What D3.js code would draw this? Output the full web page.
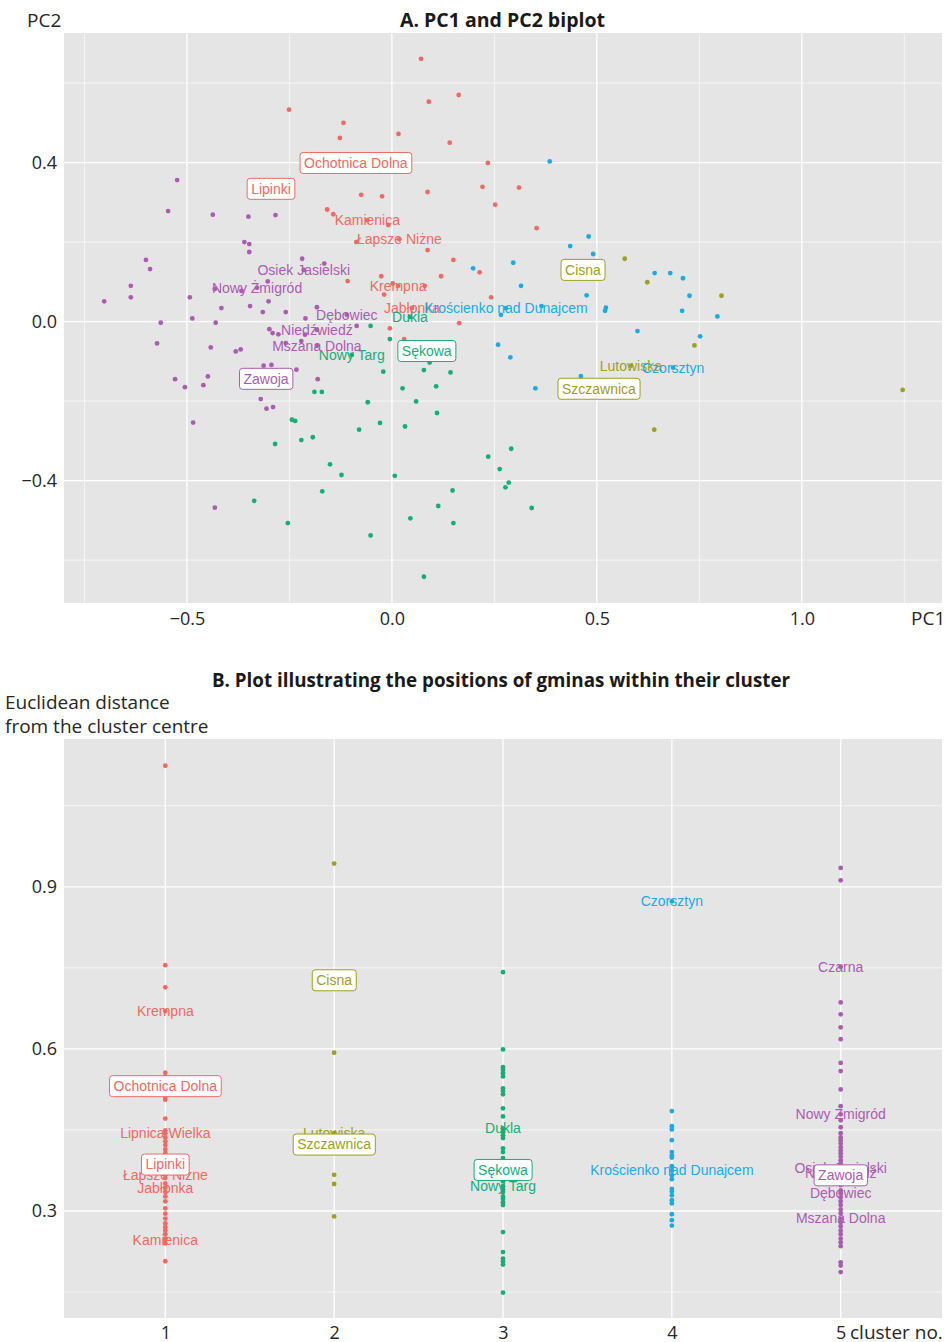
<!DOCTYPE html>
<html>
<head>
<meta charset="utf-8">
<script src="https://cdn.jsdelivr.net/npm/d3@7"></script>
<style>
  body { margin: 0; background: #ffffff; }
  svg { display: block; }
</style>
</head>
<body>
<svg id="chart" width="945" height="1342"></svg>
<script>
// ---------------------------------------------------------------
// Data
// ---------------------------------------------------------------
const clusters = [1, 2, 3, 4, 5];

// Panel A: PC1 / PC2 scores of the gminas, one array per cluster
const pcaCluster1 = [
  [0.071, 0.661], [-0.251, 0.533], [0.163, 0.570], [0.090, 0.553], [-0.118, 0.500],
  [-0.127, 0.462], [0.016, 0.472], [0.141, 0.450], [0.234, 0.399], [0.221, 0.339],
  [0.310, 0.337], [0.252, 0.294], [0.087, 0.326], [-0.075, 0.319], [-0.024, 0.315],
  [-0.158, 0.282], [-0.143, 0.270], [-0.009, 0.243], [0.353, 0.235], [-0.087, 0.200],
  [0.087, 0.180], [0.150, 0.155], [0.214, 0.124], [0.120, 0.114], [-0.026, 0.114],
  [-0.108, 0.102], [0.002, 0.096], [0.080, 0.090], [-0.019, 0.068], [0.242, 0.061],
  [-0.005, -0.017], [0.164, -0.004], [0.030, -0.044]
];
const pcaCluster2 = [
  [0.568, 0.158], [0.623, 0.099], [0.804, 0.065], [0.738, -0.060], [0.640, -0.272],
  [1.246, -0.172]
];
const pcaCluster3 = [
  [-0.052, -0.011], [-0.005, -0.044], [0.092, -0.103], [0.078, -0.122], [0.143, -0.128],
  [-0.021, -0.126], [0.026, -0.168], [0.108, -0.163], [-0.059, -0.203], [0.059, -0.201],
  [0.110, -0.230], [-0.029, -0.255], [-0.080, -0.272], [0.032, -0.264], [-0.193, -0.291],
  [-0.221, -0.298], [-0.189, -0.177], [-0.171, -0.177], [-0.151, -0.359], [-0.123, -0.386],
  [0.007, -0.388], [-0.170, -0.427], [0.235, -0.340], [0.291, -0.320], [0.263, -0.371],
  [0.285, -0.405], [0.277, -0.417], [0.148, -0.425], [0.113, -0.464], [0.045, -0.495],
  [0.150, -0.507], [0.341, -0.469], [-0.052, -0.538], [0.078, -0.642], [-0.244, -0.247],
  [-0.236, -0.250], [-0.285, -0.308], [-0.336, -0.451], [-0.254, -0.507]
];
const pcaCluster4 = [
  [0.385, 0.403], [0.435, 0.190], [0.480, 0.214], [0.491, 0.170], [0.198, 0.134],
  [0.296, 0.148], [0.315, 0.090], [0.475, 0.066], [0.520, 0.027], [0.522, 0.035],
  [0.641, 0.122], [0.679, 0.122], [0.710, 0.109], [0.726, 0.065], [0.708, 0.027],
  [0.794, 0.013], [0.266, 0.017], [0.365, 0.039], [0.599, -0.024], [0.752, -0.037],
  [0.259, -0.058], [0.289, -0.090], [0.350, -0.168], [0.461, -0.137]
];
const pcaCluster5 = [
  [-0.524, 0.356], [-0.546, 0.278], [-0.437, 0.269], [-0.350, 0.264], [-0.284, 0.268],
  [-0.360, 0.200], [-0.348, 0.195], [-0.348, 0.175], [-0.600, 0.155], [-0.590, 0.132],
  [-0.219, 0.158], [-0.165, 0.146], [-0.637, 0.090], [-0.637, 0.061], [-0.702, 0.051],
  [-0.493, 0.061], [-0.432, 0.082], [-0.367, 0.077], [-0.303, 0.101], [-0.416, 0.034],
  [-0.346, 0.039], [-0.301, 0.051], [-0.315, 0.024], [-0.259, 0.024], [-0.183, 0.036],
  [-0.211, 0.008], [-0.487, 0.008], [-0.430, -0.003], [-0.564, -0.003], [-0.573, -0.055],
  [-0.442, -0.065], [-0.381, -0.075], [-0.369, -0.070], [-0.299, -0.019], [-0.291, -0.029],
  [-0.277, -0.032], [-0.221, -0.049], [-0.259, -0.054], [-0.313, -0.111], [-0.294, -0.109],
  [-0.233, -0.121], [-0.529, -0.145], [-0.505, -0.165], [-0.460, -0.160], [-0.449, -0.138],
  [-0.181, -0.145], [-0.320, -0.195], [-0.306, -0.219], [-0.290, -0.215], [-0.485, -0.254],
  [-0.432, -0.468], [-0.086, -0.011], [-0.212, -0.033]
];
const pcaByCluster = [pcaCluster1, pcaCluster2, pcaCluster3, pcaCluster4, pcaCluster5];

// Named gminas on the biplot
const pcaLabels = [
  { name: "Ochotnica Dolna", cluster: 1, pc1: -0.088, pc2: 0.399 },
  { name: "Lipinki", cluster: 1, pc1: -0.295, pc2: 0.334 },
  { name: "Kamienica", cluster: 1, pc1: -0.060, pc2: 0.255 },
  { name: "Łapsze Niżne", cluster: 1, pc1: 0.018, pc2: 0.207 },
  { name: "Krempna", cluster: 1, pc1: 0.015, pc2: 0.090 },
  { name: "Jabłonka", cluster: 1, pc1: 0.049, pc2: 0.034 },
  { name: "Cisna", cluster: 2, pc1: 0.466, pc2: 0.130 },
  { name: "Lutowiska", cluster: 2, pc1: 0.583, pc2: -0.111 },
  { name: "Szczawnica", cluster: 2, pc1: 0.505, pc2: -0.169 },
  { name: "Dukla", cluster: 3, pc1: 0.044, pc2: 0.012 },
  { name: "Sękowa", cluster: 3, pc1: 0.085, pc2: -0.074 },
  { name: "Nowy Targ", cluster: 3, pc1: -0.098, pc2: -0.084 },
  { name: "Krościenko nad Dunajcem", cluster: 4, pc1: 0.278, pc2: 0.034 },
  { name: "Czorsztyn", cluster: 4, pc1: 0.686, pc2: -0.116 },
  { name: "Osiek Jasielski", cluster: 5, pc1: -0.215, pc2: 0.130 },
  { name: "Nowy Żmigród", cluster: 5, pc1: -0.329, pc2: 0.085 },
  { name: "Dębowiec", cluster: 5, pc1: -0.110, pc2: 0.017 },
  { name: "Niedźwiedź", cluster: 5, pc1: -0.183, pc2: -0.021 },
  { name: "Mszana Dolna", cluster: 5, pc1: -0.183, pc2: -0.061 },
  { name: "Zawoja", cluster: 5, pc1: -0.307, pc2: -0.144 }
];

// Gminas shown with a framed label
const framedGminas = ["Ochotnica Dolna", "Lipinki", "Cisna", "Szczawnica", "Sękowa", "Zawoja"];

// Panel B: Euclidean distance of each gmina from its cluster centre
const distCluster1 = [
  1.124, 0.755, 0.714, 0.556, 0.549, 0.511, 0.506, 0.471, 0.449, 0.436, 0.429, 0.422,
  0.414, 0.407, 0.399, 0.379, 0.361, 0.351, 0.335, 0.327, 0.318, 0.305, 0.295, 0.286,
  0.277, 0.270, 0.264, 0.257, 0.249, 0.240, 0.207
];
const distCluster2 = [0.943, 0.593, 0.367, 0.350, 0.290];
const distCluster3 = [
  0.742, 0.599, 0.566, 0.561, 0.555, 0.549, 0.527, 0.522, 0.516, 0.490, 0.475, 0.446,
  0.440, 0.435, 0.416, 0.409, 0.398, 0.385, 0.367, 0.361, 0.355, 0.340, 0.335, 0.327,
  0.322, 0.316, 0.311, 0.261, 0.224, 0.212, 0.207, 0.201, 0.149
];
const distCluster4 = [
  0.485, 0.457, 0.451, 0.431, 0.409, 0.403, 0.399, 0.383, 0.366, 0.359, 0.341, 0.336,
  0.329, 0.320, 0.314, 0.294, 0.283, 0.273
];
const distCluster5 = [
  0.935, 0.912, 0.686, 0.664, 0.640, 0.618, 0.574, 0.559, 0.525, 0.494, 0.468, 0.455,
  0.444, 0.436, 0.431, 0.425, 0.418, 0.412, 0.407, 0.401, 0.394, 0.388, 0.357, 0.348,
  0.338, 0.325, 0.318, 0.311, 0.303, 0.296, 0.279, 0.272, 0.264, 0.257, 0.249, 0.242,
  0.235, 0.205, 0.199, 0.187
];
const distByCluster = [distCluster1, distCluster2, distCluster3, distCluster4, distCluster5];

const distLabels = [
  { name: "Krempna", cluster: 1, dist: 0.670 },
  { name: "Ochotnica Dolna", cluster: 1, dist: 0.531 },
  { name: "Lipnica Wielka", cluster: 1, dist: 0.444 },
  { name: "Lipinki", cluster: 1, dist: 0.386 },
  { name: "Łapsze Niżne", cluster: 1, dist: 0.367 },
  { name: "Jabłonka", cluster: 1, dist: 0.343 },
  { name: "Kamienica", cluster: 1, dist: 0.246 },
  { name: "Cisna", cluster: 2, dist: 0.727 },
  { name: "Lutowiska", cluster: 2, dist: 0.444 },
  { name: "Szczawnica", cluster: 2, dist: 0.423 },
  { name: "Dukla", cluster: 3, dist: 0.453 },
  { name: "Sękowa", cluster: 3, dist: 0.376 },
  { name: "Nowy Targ", cluster: 3, dist: 0.346 },
  { name: "Czorsztyn", cluster: 4, dist: 0.873 },
  { name: "Krościenko nad Dunajcem", cluster: 4, dist: 0.375 },
  { name: "Czarna", cluster: 5, dist: 0.752 },
  { name: "Nowy Żmigród", cluster: 5, dist: 0.479 },
  { name: "Osiek Jasielski", cluster: 5, dist: 0.379 },
  { name: "Niedźwiedź", cluster: 5, dist: 0.370 },
  { name: "Zawoja", cluster: 5, dist: 0.366 },
  { name: "Dębowiec", cluster: 5, dist: 0.333 },
  { name: "Mszana Dolna", cluster: 5, dist: 0.286 }
];

// Axis breaks
const pcaXTicks = [-0.5, 0.0, 0.5, 1.0];
const pcaXMinor = [-0.75, -0.25, 0.25, 0.75, 1.25];
const pcaYTicks = [-0.4, 0.0, 0.4];
const pcaYMinor = [-0.6, -0.2, 0.2, 0.6];
const distYTicks = [0.3, 0.6, 0.9];
const distYMinor = [0.15, 0.45, 0.75, 1.05];

// ---------------------------------------------------------------
// Styling
// ---------------------------------------------------------------
const clusterColors = ["#EE6A62", "#9EA01E", "#17AD78", "#1AABE5", "#AB5CB1"];
const color = c => clusterColors[c - 1];
const axisFont = "'Open Sans', 'Noto Sans', sans-serif";
const labelFont = "'Liberation Sans', Arial, sans-serif";
const panelFill = "#E5E5E5";
const textDark = "#262626";
const pointR = 2.4;

const svg = d3.select("#chart");
const plotLeft = 64, plotRight = 942;

function drawGrid(g, xScale, yScale, xs, xsMinor, ys, ysMinor, x0, x1, y0, y1) {
  g.append("rect").attr("x", x0).attr("y", y0)
    .attr("width", x1 - x0).attr("height", y1 - y0).attr("fill", panelFill);
  const minor = g.append("g").attr("stroke", "#F7F7F7").attr("stroke-width", 0.9);
  xsMinor.forEach(v => minor.append("line")
    .attr("x1", xScale(v)).attr("x2", xScale(v)).attr("y1", y0).attr("y2", y1));
  ysMinor.forEach(v => minor.append("line")
    .attr("x1", x0).attr("x2", x1).attr("y1", yScale(v)).attr("y2", yScale(v)));
  const major = g.append("g").attr("stroke", "#FFFFFF").attr("stroke-width", 1.3);
  xs.forEach(v => major.append("line")
    .attr("x1", xScale(v)).attr("x2", xScale(v)).attr("y1", y0).attr("y2", y1));
  ys.forEach(v => major.append("line")
    .attr("x1", x0).attr("x2", x1).attr("y1", yScale(v)).attr("y2", yScale(v)));
}

function styleAxis(g) {
  g.select(".domain").remove();
  g.selectAll(".tick line").remove();
  g.selectAll(".tick text")
    .attr("fill", textDark)
    .style("font-family", axisFont)
    .style("font-size", "18px");
}

function drawLabel(g, x, y, name, c, framed) {
  const lg = g.append("g");
  const t = lg.append("text")
    .attr("x", x).attr("y", y).attr("dy", "0.35em")
    .attr("text-anchor", "middle")
    .attr("fill", color(c))
    .style("font-family", labelFont)
    .style("font-size", "14px")
    .text(name);
  if (framed) {
    const bb = t.node().getBBox();
    lg.insert("rect", "text")
      .attr("x", bb.x - 4).attr("y", y - 10.5)
      .attr("width", bb.width + 8).attr("height", 21)
      .attr("rx", 3).attr("ry", 3)
      .attr("fill", "#FFFFFF")
      .attr("stroke", color(c)).attr("stroke-width", 1);
  }
}

// ---------------------------------------------------------------
// Panel A: PC1 and PC2 biplot
// ---------------------------------------------------------------
const aTop = 33, aBottom = 603;
const xA = d3.scaleLinear().domain([-0.8, 1.342]).range([plotLeft, plotRight]);
const yA = d3.scaleLinear().domain([-0.708, 0.726]).range([aBottom, aTop]);

const gA = svg.append("g");
drawGrid(gA, xA, yA, pcaXTicks, pcaXMinor, pcaYTicks, pcaYMinor, plotLeft, plotRight, aTop, aBottom);

gA.append("g").attr("transform", `translate(0,${aBottom})`)
  .call(d3.axisBottom(xA).tickValues(pcaXTicks).tickFormat(d3.format(".1f")).tickSize(0).tickPadding(9))
  .call(styleAxis);
gA.append("g").attr("transform", `translate(${plotLeft},0)`)
  .call(d3.axisLeft(yA).tickValues(pcaYTicks).tickFormat(d3.format(".1f")).tickSize(0).tickPadding(7))
  .call(styleAxis);

const ptsA = gA.append("g");
pcaByCluster.forEach((arr, i) => {
  ptsA.selectAll(null).data(arr).join("circle")
    .attr("cx", d => xA(d[0])).attr("cy", d => yA(d[1]))
    .attr("r", pointR).attr("fill", clusterColors[i]);
});
ptsA.selectAll(null).data(pcaLabels).join("circle")
  .attr("cx", d => xA(d.pc1)).attr("cy", d => yA(d.pc2))
  .attr("r", pointR).attr("fill", d => color(d.cluster));

const labA = gA.append("g");
pcaLabels.filter(d => !framedGminas.includes(d.name))
  .forEach(d => drawLabel(labA, xA(d.pc1), yA(d.pc2), d.name, d.cluster, false));
pcaLabels.filter(d => framedGminas.includes(d.name))
  .forEach(d => drawLabel(labA, xA(d.pc1), yA(d.pc2), d.name, d.cluster, true));

gA.append("text").attr("x", 502.5).attr("y", 27).attr("text-anchor", "middle")
  .attr("fill", "#1a1a1a").style("font-family", axisFont)
  .style("font-size", "19.5px").style("font-weight", "700")
  .text("A. PC1 and PC2 biplot");
gA.append("text").attr("x", 27).attr("y", 27).attr("fill", textDark)
  .style("font-family", axisFont).style("font-size", "19px").text("PC2");
gA.append("text").attr("x", 911).attr("y", 625).attr("fill", textDark)
  .style("font-family", axisFont).style("font-size", "19px").text("PC1");

// ---------------------------------------------------------------
// Panel B: positions of gminas within their cluster
// ---------------------------------------------------------------
const bTop = 739, bBottom = 1318;
const xB = d3.scalePoint().domain(clusters).range([plotLeft, plotRight]).padding(0.6);
const yB = d3.scaleLinear().domain([0.102, 1.1735]).range([bBottom, bTop]);

const gB = svg.append("g");
drawGrid(gB, xB, yB, clusters, [], distYTicks, distYMinor, plotLeft, plotRight, bTop, bBottom);

gB.append("g").attr("transform", `translate(0,${bBottom})`)
  .call(d3.axisBottom(xB).tickSize(0).tickPadding(8))
  .call(styleAxis);
gB.append("g").attr("transform", `translate(${plotLeft},0)`)
  .call(d3.axisLeft(yB).tickValues(distYTicks).tickFormat(d3.format(".1f")).tickSize(0).tickPadding(7))
  .call(styleAxis);

const ptsB = gB.append("g");
distByCluster.forEach((arr, i) => {
  ptsB.selectAll(null).data(arr).join("circle")
    .attr("cx", xB(clusters[i])).attr("cy", d => yB(d))
    .attr("r", pointR).attr("fill", clusterColors[i]);
});
ptsB.selectAll(null).data(distLabels).join("circle")
  .attr("cx", d => xB(d.cluster)).attr("cy", d => yB(d.dist))
  .attr("r", pointR).attr("fill", d => color(d.cluster));

const labB = gB.append("g");
distLabels.filter(d => !framedGminas.includes(d.name))
  .forEach(d => drawLabel(labB, xB(d.cluster), yB(d.dist), d.name, d.cluster, false));
distLabels.filter(d => framedGminas.includes(d.name))
  .forEach(d => drawLabel(labB, xB(d.cluster), yB(d.dist), d.name, d.cluster, true));

gB.append("text").attr("x", 501).attr("y", 687).attr("text-anchor", "middle")
  .attr("fill", "#1a1a1a").style("font-family", axisFont)
  .style("font-size", "18.8px").style("font-weight", "700")
  .text("B. Plot illustrating the positions of gminas within their cluster");
gB.append("text").attr("x", 5).attr("y", 709).attr("fill", textDark)
  .style("font-family", axisFont).style("font-size", "19px").text("Euclidean distance");
gB.append("text").attr("x", 5).attr("y", 733).attr("fill", textDark)
  .style("font-family", axisFont).style("font-size", "19px").text("from the cluster centre");
gB.append("text").attr("x", 850).attr("y", 1339).attr("fill", textDark)
  .style("font-family", axisFont).style("font-size", "19px").text("cluster no.");
</script>
</body>
</html>
